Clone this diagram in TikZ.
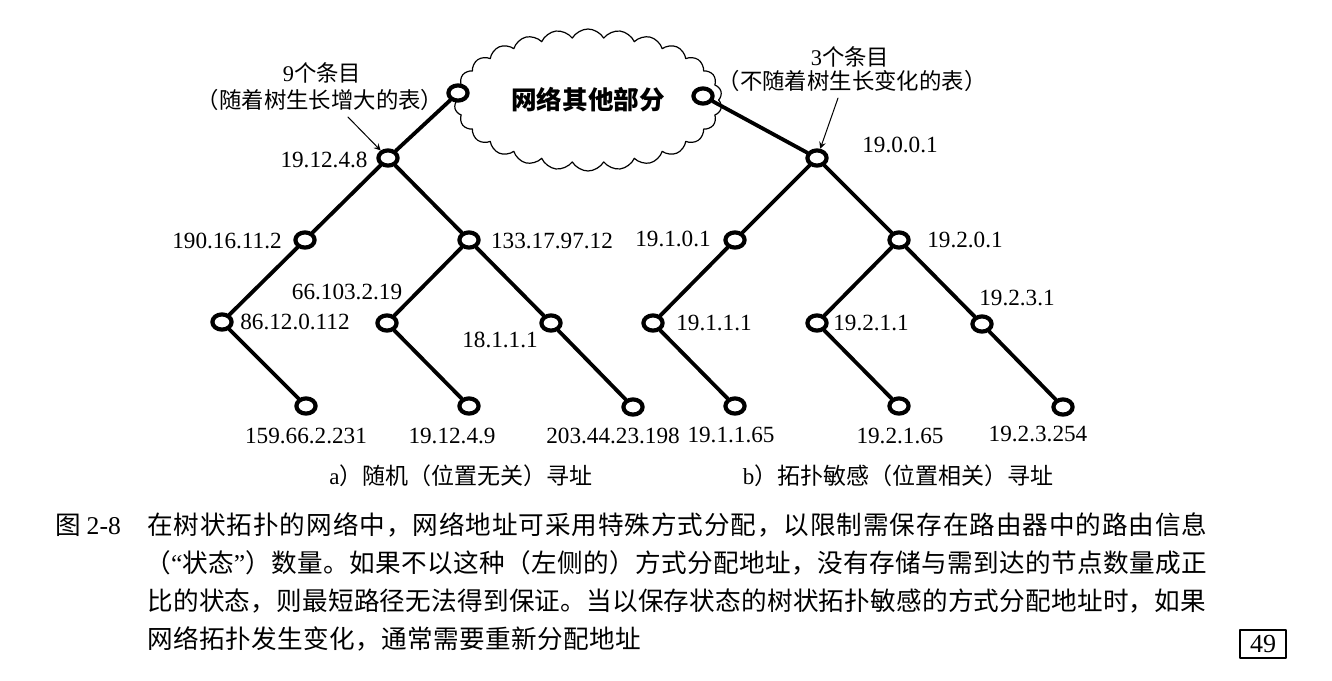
\documentclass[tikz,border=0pt]{standalone}
\usepackage{fontspec}
\setmainfont{Liberation Serif}
\newfontfamily\cjk{Noto Sans CJK SC}
\usetikzlibrary{shapes.geometric,shapes.symbols}
\begin{document}
\begin{tikzpicture}[x=0.5pt, y=-0.5pt, line join=round, line cap=round, >=stealth,
  port/.style={ellipse, draw, fill=white, line width=2.1pt, minimum width=9.6pt, minimum height=7.6pt, inner sep=0pt},
  link/.style={line width=1.9pt},
  addr/.style={font=\fontsize{11.6}{14}\selectfont, inner sep=0pt},
  note/.style={font=\fontsize{11.2}{13}\selectfont\cjk, inner sep=0pt},
  sub/.style={font=\fontsize{11.5}{13}\selectfont\cjk, inner sep=0pt},
  capline/.style={font=\fontsize{12.8}{15}\selectfont\cjk, inner sep=0pt, anchor=west}]
\useasboundingbox (0,0) rectangle (1332,680);
\node[cloud, draw, line width=0.6pt, cloud puffs=26, cloud puff arc=120, aspect=2,
  minimum width=134pt, minimum height=71pt, inner sep=0pt,
  font=\fontsize{12.8}{14}\selectfont\cjk\bfseries] (rest) at (588,100) {网络其他部分};
\foreach \n/\x/\y in {cl/458/93, cr/703/96,
  lroot/388/158, l1a/305/240, l1b/469/240, l2a/222/322, l2b/387/323, l2c/551/323,
  l3a/306/406, l3b/469/406, l3c/633/407,
  rroot/817/158, r1a/735/240, r1b/899/240, r2a/653/323, r2b/817/323, r2c/982/324,
  r3a/735/406, r3b/899/406, r3c/1063/407}
  \node[port] (\n) at (\x,\y) {};
\foreach \a/\b in {cl/lroot, lroot/l1a, lroot/l1b, l1a/l2a, l2a/l3a, l1b/l2b, l2b/l3b, l1b/l2c, l2c/l3c,
  cr/rroot, rroot/r1a, rroot/r1b, r1a/r2a, r2a/r3a, r1b/r2b, r2b/r3b, r1b/r2c, r2c/r3c}
  \draw[link] (\a) -- (\b);
\foreach \n/\x/\y/\t in {lroot/324/160/19.12.4.8, l1a/227/241/190.16.11.2, l1b/552/241/133.17.97.12,
  l2a/295/322/86.12.0.112, l2b/347/292/66.103.2.19, l2c/500/340/18.1.1.1,
  l3a/306/436/159.66.2.231, l3b/452/436/19.12.4.9, l3c/613/436/203.44.23.198,
  rroot/900/145/19.0.0.1, r1a/673/239/19.1.0.1, r1b/965/240/19.2.0.1,
  r2a/714/323/19.1.1.1, r2b/871/323/19.2.1.1, r2c/1017/298/19.2.3.1,
  r3a/731/435/19.1.1.65, r3b/900/436/19.2.1.65, r3c/1038/434/19.2.3.254}
  \node[addr] (t\n) at (\x,\y) {\t};
\node[note] (lnote1) at (322,73) {{\rmfamily 9}个条目};
\node[note] (lnote2) at (320,100) {（随着树生长增大的表）};
\node[note] (rnote1) at (850,57) {{\rmfamily 3}个条目};
\node[note] (rnote2) at (852,81) {（不随着树生长变化的表）};
\draw[->, line width=0.5pt] ([xshift=14pt, yshift=-3pt]lnote2.south) -- (lroot);
\draw[->, line width=0.5pt] ([xshift=-7pt, yshift=-3pt]rnote2.south) -- (rroot);
\node[sub] (suba) at (461,476) {{\rmfamily a}）随机（位置无关）寻址};
\node[sub] (subb) at (898,476) {{\rmfamily b}）拓扑敏感（位置相关）寻址};
\node[capline] (fig) at (55,525) {图 {\rmfamily 2-8}};
\node[capline] (cap1) at (147,525) {\addfontfeature{LetterSpace=3.6}在树状拓扑的网络中，网络地址可采用特殊方式分配，以限制需保存在路由器中的路由信息};
\node[capline] (cap2) at (145,563) {\addfontfeature{LetterSpace=1.6}（{\rmfamily “}状态{\rmfamily ”}）数量。如果不以这种（左侧的）方式分配地址，没有存储与需到达的节点数量成正};
\node[capline] (cap3) at (147,601) {\addfontfeature{LetterSpace=0.9}比的状态，则最短路径无法得到保证。当以保存状态的树状拓扑敏感的方式分配地址时，如果};
\node[capline] (cap4) at (147,639) {\addfontfeature{LetterSpace=1.6}网络拓扑发生变化，通常需要重新分配地址};
\node[draw, line width=0.8pt, minimum width=23pt, minimum height=14pt, inner sep=0pt,
  font=\fontsize{13}{15}\selectfont] (page) at (1263,644) {49};
\end{tikzpicture}
\end{document}
